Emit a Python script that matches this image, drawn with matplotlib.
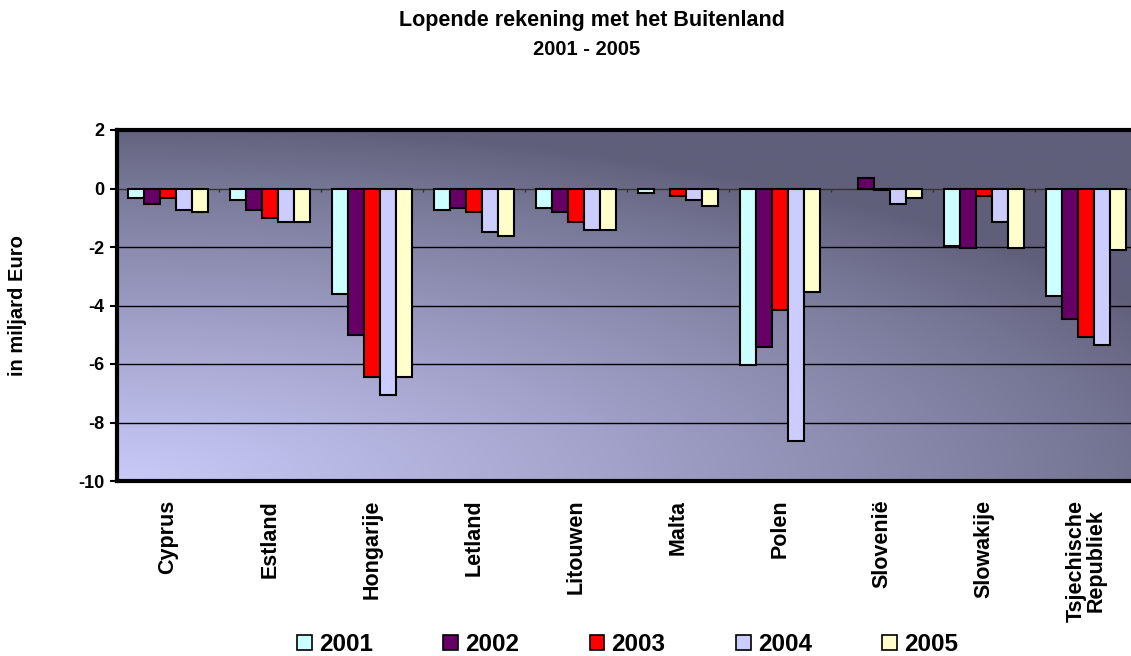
import numpy as np
import matplotlib
matplotlib.use("Agg")
import matplotlib.pyplot as plt
from matplotlib.patches import Rectangle

categories = ["Cyprus", "Estland", "Hongarije", "Letland", "Litouwen",
              "Malta", "Polen", "Slovenië", "Slowakije", "Tsjechische\nRepubliek"]
years = ["2001", "2002", "2003", "2004", "2005"]
v2001 = [-0.31, -0.39, -3.61, -0.72, -0.66, -0.17, -6.03, 0.0, -1.98, -3.68]
v2002 = [-0.54, -0.73, -5.00, -0.66, -0.81, 0.0, -5.42, 0.37, -2.03, -4.45]
v2003 = [-0.31, -1.02, -6.45, -0.80, -1.14, -0.25, -4.17, -0.06, -0.25, -5.06]
v2004 = [-0.72, -1.14, -7.06, -1.49, -1.42, -0.39, -8.64, -0.53, -1.14, -5.34]
v2005 = [-0.81, -1.14, -6.45, -1.62, -1.42, -0.59, -3.54, -0.32, -2.03, -2.10]
series = [v2001, v2002, v2003, v2004, v2005]
colors = ["#ccffff", "#660066", "#ff0000", "#ccccff", "#ffffcc"]
yticks = [2, 0, -2, -4, -6, -8, -10]

plt.rcParams['font.family'] = ['Liberation Sans', 'DejaVu Sans']

fig = plt.figure(figsize=(11.31, 6.56), dpi=100)
ax = fig.add_axes([117/1131, 1-481/656, 1020/1131, 351/656])

# gradient background
nx, ny = 300, 200
xx = np.linspace(0, 1, nx)
yy = np.linspace(0, 1, ny)
X, Y = np.meshgrid(xx, yy)  # Y=0 bottom
f = np.clip(1 - np.sqrt((X / 1.15) ** 2 + (Y / 1.02) ** 2), 0, 1) ** 0.85
dark = np.array([95, 95, 122]) / 255
light = np.array([202, 202, 250]) / 255
img = dark[None, None, :] + (light - dark)[None, None, :] * f[:, :, None]
ax.imshow(img, origin="lower", extent=[-0.5, len(categories) - 0.5, -10, 2],
          aspect="auto", zorder=0, interpolation="bilinear")

x = np.arange(len(categories))
bw = 0.157
for i, (vals, c, yr) in enumerate(zip(series, colors, years)):
    lw = [0 if v == 0 else 1.5 for v in vals]
    ax.bar(x + (i - 2) * bw, vals, width=bw, color=c, edgecolor="black",
           linewidth=lw, zorder=3, label=yr)

for yv in yticks[2:-1]:
    ax.axhline(yv, color="black", linewidth=1.0, zorder=1)
ax.axhline(0, color="#333333", linewidth=1.0, zorder=2)
bounds = np.arange(len(categories) + 1) - 0.5
ax.vlines(bounds, -0.12, 0, color="#333333", linewidth=1.0, zorder=2)

ax.set_xlim(-0.5, len(categories) - 0.5)
ax.set_ylim(-10, 2)
ax.set_yticks(yticks)
ax.set_yticklabels([str(t) for t in yticks], fontsize=13, fontweight="bold")
ax.set_xticks(x)
ax.set_xticklabels(categories, rotation=90, fontsize=15.5, fontweight="bold",
                   va="top", ha="center", linespacing=0.95)
ax.tick_params(axis="x", length=0, pad=13.5)
ax.tick_params(axis="y", length=5, width=1.5, direction="out", pad=4)
for s in ["top", "left", "bottom"]:
    ax.spines[s].set_linewidth(3)
ax.spines["right"].set_visible(False)

ax.set_ylabel("in miljard Euro", fontsize=14.5, fontweight="bold", labelpad=37)

fig.text(0.523, 0.969, "Lopende rekening met het Buitenland", ha="center",
         va="center", fontsize=15.5, fontweight="bold")
fig.text(0.519, 0.925, "2001 - 2005", ha="center", va="center",
         fontsize=14.5, fontweight="bold")

handles = [Rectangle((0, 0), 1, 1, facecolor=c, edgecolor="black", linewidth=1.2)
           for c in colors]
leg = fig.legend(handles, years, loc="center", bbox_to_anchor=(0.555, 0.017),
                 ncol=5, frameon=False, prop={"size": 17.5, "weight": "bold"},
                 handlelength=0.6, handleheight=0.6, handletextpad=0.3,
                 columnspacing=2.9)

fig.savefig("out.png", dpi=100)
